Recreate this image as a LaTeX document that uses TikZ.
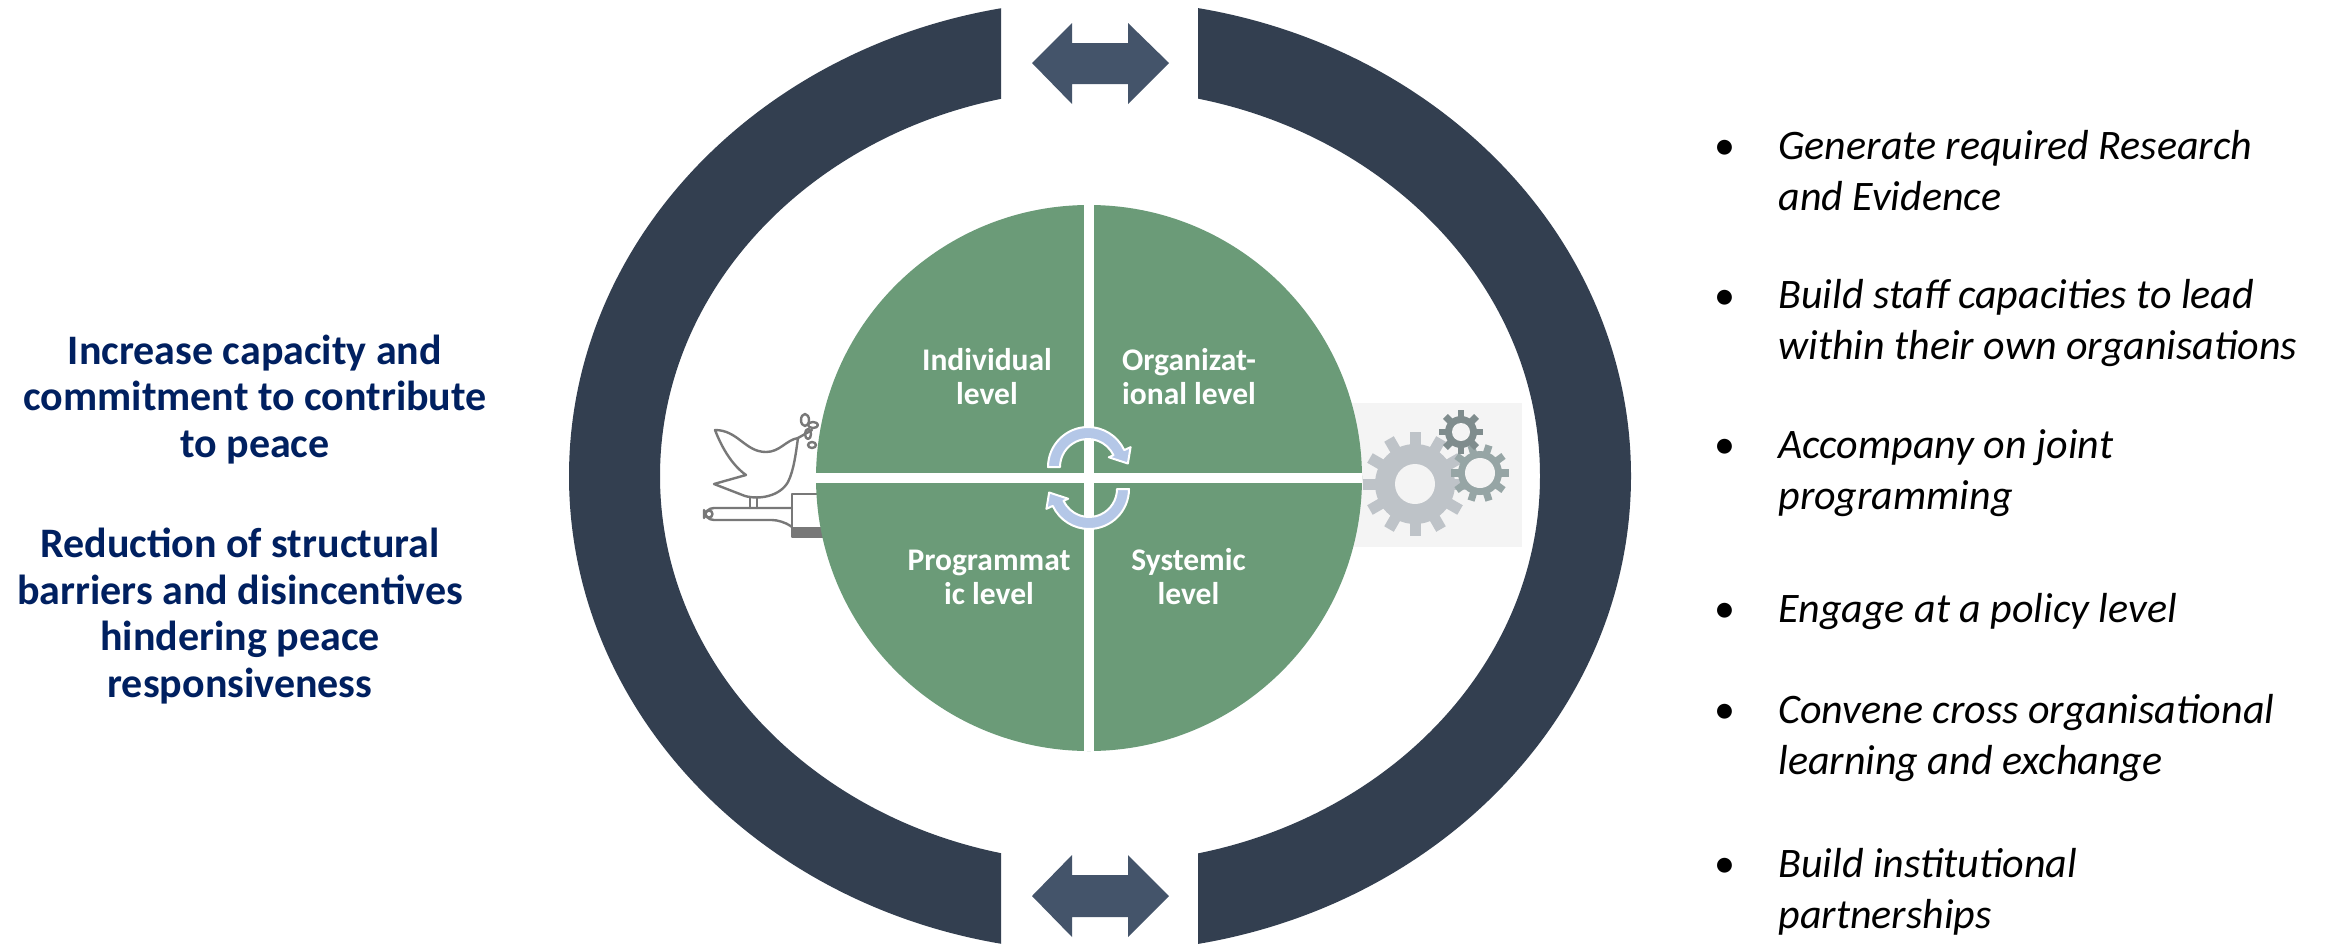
\documentclass[tikz,border=0pt]{standalone}
\usepackage{fontspec}
\setmainfont{Carlito}

\definecolor{ringblue}{RGB}{51,63,80}
\definecolor{arrowblue}{RGB}{68,84,106}
\definecolor{quadgreen}{RGB}{107,155,120}
\definecolor{cycleblue}{RGB}{180,199,231}
\definecolor{headnavy}{RGB}{0,32,96}
\definecolor{gearbg}{RGB}{244,244,244}
\definecolor{gearlight}{RGB}{190,195,200}
\definecolor{gearmid}{RGB}{150,165,165}
\definecolor{geardark}{RGB}{127,140,141}
\definecolor{doveline}{RGB}{120,120,120}

% multi-line nodes below are placed by the baseline of their last line
\tikzset{
  ringpart/.style={fill=ringblue},
  dblarrow/.style={fill=arrowblue},
  quadlabel/.style={text=white, font=\bfseries\fontsize{15.75}{17}\selectfont,
    align=center, anchor=base, inner sep=0pt},
  goal/.style={text=headnavy, font=\bfseries\fontsize{21}{23.25}\selectfont,
    align=center, anchor=base, inner sep=0pt},
  item/.style={font=\itshape\fontsize{21}{25.5}\selectfont,
    align=left, anchor=base west, inner sep=0pt},
  bulletmark/.style={font=\fontsize{21}{25.5}\selectfont, anchor=base, inner sep=0pt},
  cycarrow/.style={fill=cycleblue, draw=white, line width=1pt, line join=round},
  doveink/.style={draw=doveline, line width=1.2pt, line join=round, line cap=round},
}

% gear: centre x, centre y, teeth, tip radius, root radius, tooth half width, colour, hole radius
\newcommand\drawgear[8]{%
  \fill[#7] (#1,#2) circle[radius=#5];
  \foreach \k in {1,...,#3}{%
    \pgfmathsetmacro\gearang{\k*360/#3}
    \fill[#7, rotate around={\gearang:(#1,#2)}] (#1+#5-4,#2-#6) rectangle (#1+#4,#2+#6);
  }
  \fill[gearbg] (#1,#2) circle[radius=#8];
}

\begin{document}
\begin{tikzpicture}[x=0.5pt,y=-0.5pt]
\useasboundingbox (0,0) rectangle (2330,943);
\fill[white] (0,0) rectangle (2330,943);

% gear icon behind the right edge of the disc
\fill[gearbg] (1347,403) rectangle (1522,547);
\drawgear{1415}{484}{12}{52}{40}{5.5}{gearlight}{20}
\drawgear{1480}{473}{10}{29}{22}{3.6}{gearmid}{15}
\drawgear{1461}{432}{8}{22}{16}{3.4}{geardark}{9}

% dove on a pen behind the left edge of the disc
\draw[doveink] (715,430)
  .. controls (738,430) and (745,452) .. (766,452)
  .. controls (780,452) and (786,440) .. (798,438)
  .. controls (796,452) and (794,470) .. (788,482)
  .. controls (780,496) and (760,500) .. (745,496)
  -- (714,484) -- (746,475)
  .. controls (732,465) and (722,448) .. cycle;
\draw[doveink] (750,497) -- (750,508) (757,497) -- (757,508);
\draw[doveink] (798,438) -- (812,430);
\draw[doveink] (805,420) ellipse[x radius=4, y radius=6]
  (813,425) ellipse[x radius=5, y radius=3]
  (808,434) ellipse[x radius=3, y radius=5]
  (812,445) ellipse[x radius=4, y radius=3];
\draw[doveink, rounded corners=5] (792,508) -- (704,508) -- (704,520) -- (782,520) -- (792,527);
\draw[doveink] (709,514) circle[radius=3.5];
\draw[doveink] (792,494) rectangle (830,537);
\fill[doveline] (792,527) rectangle (830,537);

% the four-level disc
\fill[quadgreen] (1089,478) circle[radius=273];
\begin{scope}
  \clip (1089,478) circle[radius=273];
  \fill[white] (1083.5,190) rectangle (1093.5,770);
  \fill[white] (800,473) rectangle (1380,483);
\end{scope}

\node[quadlabel] (indiv) at (987,404.5) {Individual\\level};
\node[quadlabel] (organ) at (1189,404.5) {Organizat-\\ional level};
\node[quadlabel] (progr) at (989,604) {Programmat\\ic level};
\node[quadlabel] (syst)  at (1188.5,604) {Systemic\\level};

% cycle arrows in the middle
\coordinate (U) at (1088,467);
\coordinate (L) at (1089,489);
\filldraw[cycarrow] ([shift={(180:40)}]U) arc[start angle=180, end angle=335, radius=40]
  -- ([shift={(335:47)}]U) -- ([shift={(355:40)}]U) -- ([shift={(335:23)}]U)
  -- ([shift={(335:28)}]U) arc[start angle=335, end angle=180, radius=28] -- cycle;
\filldraw[cycarrow] ([shift={(0:40)}]L) arc[start angle=0, end angle=155, radius=40]
  -- ([shift={(155:47)}]L) -- ([shift={(175:40)}]L) -- ([shift={(155:23)}]L)
  -- ([shift={(155:28)}]L) arc[start angle=155, end angle=0, radius=28] -- cycle;

% outer ring split into two brackets
\begin{scope}
  \clip (0,0) rectangle (1001,943);
  \fill[ringpart, even odd rule]
    (1100,476) ellipse[x radius=531, y radius=476]
    (1100,476) ellipse[x radius=440, y radius=387];
\end{scope}
\begin{scope}
  \clip (1198,0) rectangle (2330,943);
  \fill[ringpart, even odd rule]
    (1100,476) ellipse[x radius=531, y radius=476]
    (1100,476) ellipse[x radius=440, y radius=387];
\end{scope}

% exchange arrows in the gaps
\fill[dblarrow] (1032,63) -- (1072,23) -- (1072,43) -- (1128,43) -- (1128,23)
  -- (1169,63) -- (1128,104) -- (1128,84) -- (1072,84) -- (1072,104) -- cycle;
\fill[dblarrow] (1032,896) -- (1072,855) -- (1072,875) -- (1128,875) -- (1128,855)
  -- (1169,896) -- (1128,937) -- (1128,917) -- (1072,917) -- (1072,937) -- cycle;

% goals on the left
\node[goal] (goalA) at (255,457) {Increase capacity and\\commitment to contribute\\to peace};
\node[goal] (goalB) at (240,697) {Reduction of structural\\barriers and disincentives\\hindering peace\\responsiveness};

% activities on the right
\node[bulletmark] (b1) at (1725,159) {•};
\node[item] (a1) at (1778,210) {Generate required Research\\and Evidence};
\node[bulletmark] (b2) at (1725,309) {•};
\node[item] (a2) at (1778,359) {Build staff capacities to lead\\within their own organisations};
\node[bulletmark] (b3) at (1725,458) {•};
\node[item] (a3) at (1778,509) {Accompany on joint\\programming};
\node[bulletmark] (b4) at (1725,622) {•};
\node[item] (a4) at (1778,622) {Engage at a policy level};
\node[bulletmark] (b5) at (1725,723) {•};
\node[item] (a5) at (1778,774) {Convene cross organisational\\learning and exchange};
\node[bulletmark] (b6) at (1725,877) {•};
\node[item] (a6) at (1778,928) {Build institutional\\partnerships};
\end{tikzpicture}
\end{document}
